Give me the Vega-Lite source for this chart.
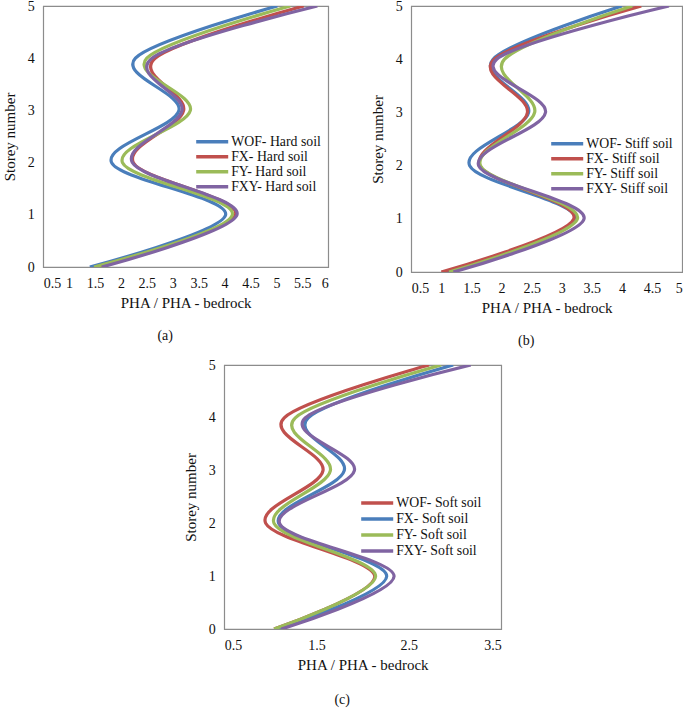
{
  "$schema": "https://vega.github.io/schema/vega-lite/v6.json",
  "padding": {"left": 1, "top": -2, "right": 0, "bottom": 0},
  "background": "white",
  "config": {
    "font": "Times New Roman",
    "view": {"stroke": "#8c8c8c", "strokeWidth": 1.2},
    "axis": {"grid": false, "ticks": false, "domain": false, "labelFont": "Times New Roman", "labelFontSize": 14, "labelColor": "#111", "titleFont": "Times New Roman", "titleFontSize": 15, "titleFontWeight": "normal", "titleColor": "#111"},
    "axisX": {"labelPadding": 9, "titlePadding": 5},
    "axisY": {"labelPadding": 9, "titlePadding": 10},
    "legend": {"labelFont": "Times New Roman", "labelFontSize": 13.8, "labelColor": "#111", "symbolType": "stroke", "symbolSize": 1024, "symbolStrokeWidth": 3.5, "labelOffset": 1, "rowPadding": 0, "clipHeight": 13.3, "orient": "none"},
    "title": {"font": "Times New Roman", "fontSize": 14, "fontWeight": "normal", "color": "#111", "orient": "bottom", "frame": "bounds", "anchor": "middle", "offset": 19}
  },
  "data": {"values": [
    {"panel": "a", "series": "WOF- Hard soil", "storey": 0, "pha": 1.40},
    {"panel": "a", "series": "WOF- Hard soil", "storey": 1, "pha": 4.02},
    {"panel": "a", "series": "WOF- Hard soil", "storey": 2, "pha": 1.82},
    {"panel": "a", "series": "WOF- Hard soil", "storey": 3, "pha": 3.12},
    {"panel": "a", "series": "WOF- Hard soil", "storey": 4, "pha": 2.28},
    {"panel": "a", "series": "WOF- Hard soil", "storey": 5, "pha": 5.02},
    {"panel": "a", "series": "FX- Hard soil", "storey": 0, "pha": 1.51},
    {"panel": "a", "series": "FX- Hard soil", "storey": 1, "pha": 4.21},
    {"panel": "a", "series": "FX- Hard soil", "storey": 2, "pha": 2.24},
    {"panel": "a", "series": "FX- Hard soil", "storey": 3, "pha": 3.21},
    {"panel": "a", "series": "FX- Hard soil", "storey": 4, "pha": 2.66},
    {"panel": "a", "series": "FX- Hard soil", "storey": 5, "pha": 5.53},
    {"panel": "a", "series": "FY- Hard soil", "storey": 0, "pha": 1.48},
    {"panel": "a", "series": "FY- Hard soil", "storey": 1, "pha": 4.15},
    {"panel": "a", "series": "FY- Hard soil", "storey": 2, "pha": 2.03},
    {"panel": "a", "series": "FY- Hard soil", "storey": 3, "pha": 3.34},
    {"panel": "a", "series": "FY- Hard soil", "storey": 4, "pha": 2.50},
    {"panel": "a", "series": "FY- Hard soil", "storey": 5, "pha": 5.27},
    {"panel": "a", "series": "FXY- Hard soil", "storey": 0, "pha": 1.63},
    {"panel": "a", "series": "FXY- Hard soil", "storey": 1, "pha": 4.24},
    {"panel": "a", "series": "FXY- Hard soil", "storey": 2, "pha": 2.22},
    {"panel": "a", "series": "FXY- Hard soil", "storey": 3, "pha": 3.18},
    {"panel": "a", "series": "FXY- Hard soil", "storey": 4, "pha": 2.60},
    {"panel": "a", "series": "FXY- Hard soil", "storey": 5, "pha": 5.79},
    {"panel": "b", "series": "WOF- Stiff soil", "storey": 0, "pha": 1.07},
    {"panel": "b", "series": "WOF- Stiff soil", "storey": 1, "pha": 3.22},
    {"panel": "b", "series": "WOF- Stiff soil", "storey": 2, "pha": 1.47},
    {"panel": "b", "series": "WOF- Stiff soil", "storey": 3, "pha": 2.45},
    {"panel": "b", "series": "WOF- Stiff soil", "storey": 4, "pha": 1.86},
    {"panel": "b", "series": "WOF- Stiff soil", "storey": 5, "pha": 4.00},
    {"panel": "b", "series": "FX- Stiff soil", "storey": 0, "pha": 1.00},
    {"panel": "b", "series": "FX- Stiff soil", "storey": 1, "pha": 3.20},
    {"panel": "b", "series": "FX- Stiff soil", "storey": 2, "pha": 1.64},
    {"panel": "b", "series": "FX- Stiff soil", "storey": 3, "pha": 2.43},
    {"panel": "b", "series": "FX- Stiff soil", "storey": 4, "pha": 1.88},
    {"panel": "b", "series": "FX- Stiff soil", "storey": 5, "pha": 4.32},
    {"panel": "b", "series": "FY- Stiff soil", "storey": 0, "pha": 1.13},
    {"panel": "b", "series": "FY- Stiff soil", "storey": 1, "pha": 3.26},
    {"panel": "b", "series": "FY- Stiff soil", "storey": 2, "pha": 1.65},
    {"panel": "b", "series": "FY- Stiff soil", "storey": 3, "pha": 2.55},
    {"panel": "b", "series": "FY- Stiff soil", "storey": 4, "pha": 2.05},
    {"panel": "b", "series": "FY- Stiff soil", "storey": 5, "pha": 4.17},
    {"panel": "b", "series": "FXY- Stiff soil", "storey": 0, "pha": 1.20},
    {"panel": "b", "series": "FXY- Stiff soil", "storey": 1, "pha": 3.37},
    {"panel": "b", "series": "FXY- Stiff soil", "storey": 2, "pha": 1.62},
    {"panel": "b", "series": "FXY- Stiff soil", "storey": 3, "pha": 2.73},
    {"panel": "b", "series": "FXY- Stiff soil", "storey": 4, "pha": 1.92},
    {"panel": "b", "series": "FXY- Stiff soil", "storey": 5, "pha": 4.78},
    {"panel": "c", "series": "WOF- Soft soil", "storey": 0, "pha": 1.04},
    {"panel": "c", "series": "WOF- Soft soil", "storey": 1, "pha": 2.13},
    {"panel": "c", "series": "WOF- Soft soil", "storey": 2, "pha": 0.95},
    {"panel": "c", "series": "WOF- Soft soil", "storey": 3, "pha": 1.57},
    {"panel": "c", "series": "WOF- Soft soil", "storey": 4, "pha": 1.15},
    {"panel": "c", "series": "WOF- Soft soil", "storey": 5, "pha": 2.72},
    {"panel": "c", "series": "FX- Soft soil", "storey": 0, "pha": 1.08},
    {"panel": "c", "series": "FX- Soft soil", "storey": 1, "pha": 2.26},
    {"panel": "c", "series": "FX- Soft soil", "storey": 2, "pha": 1.09},
    {"panel": "c", "series": "FX- Soft soil", "storey": 3, "pha": 1.80},
    {"panel": "c", "series": "FX- Soft soil", "storey": 4, "pha": 1.41},
    {"panel": "c", "series": "FX- Soft soil", "storey": 5, "pha": 2.98},
    {"panel": "c", "series": "FY- Soft soil", "storey": 0, "pha": 1.04},
    {"panel": "c", "series": "FY- Soft soil", "storey": 1, "pha": 2.14},
    {"panel": "c", "series": "FY- Soft soil", "storey": 2, "pha": 1.04},
    {"panel": "c", "series": "FY- Soft soil", "storey": 3, "pha": 1.65},
    {"panel": "c", "series": "FY- Soft soil", "storey": 4, "pha": 1.27},
    {"panel": "c", "series": "FY- Soft soil", "storey": 5, "pha": 2.85},
    {"panel": "c", "series": "FXY- Soft soil", "storey": 0, "pha": 1.12},
    {"panel": "c", "series": "FXY- Soft soil", "storey": 1, "pha": 2.34},
    {"panel": "c", "series": "FXY- Soft soil", "storey": 2, "pha": 1.10},
    {"panel": "c", "series": "FXY- Soft soil", "storey": 3, "pha": 1.91},
    {"panel": "c", "series": "FXY- Soft soil", "storey": 4, "pha": 1.38},
    {"panel": "c", "series": "FXY- Soft soil", "storey": 5, "pha": 3.17}
  ]},
  "vconcat": [
    {
      "hconcat": [
        {
          "width": 285, "height": 261,
          "title": {"text": "(a)"},
          "transform": [{"filter": "datum.panel === 'a'"}],
          "mark": {"type": "line", "interpolate": "cardinal", "strokeWidth": 3.2, "clip": true},
          "encoding": {
            "x": {"field": "pha", "type": "quantitative", "scale": {"domain": [0.5, 6], "nice": false, "zero": false}, "axis": {"values": [0.5, 1, 1.5, 2, 2.5, 3, 3.5, 4, 4.5, 5, 5.5, 6], "labelExpr": "'' + datum.value", "title": "PHA / PHA - bedrock"}},
            "y": {"field": "storey", "type": "quantitative", "scale": {"domain": [0, 5], "nice": false}, "axis": {"values": [0, 1, 2, 3, 4, 5], "title": "Storey number"}},
            "color": {"field": "series", "type": "nominal", "scale": {"domain": ["WOF- Hard soil", "FX- Hard soil", "FY- Hard soil", "FXY- Hard soil"], "range": ["#4a7ebb", "#c0504d", "#9bbb59", "#8064a2"]}, "legend": {"title": null, "legendX": 151, "legendY": 129}},
            "order": {"field": "storey", "type": "quantitative"}
          }
        },
        {
          "width": 271, "height": 266,
          "title": {"text": "(b)"},
          "transform": [{"filter": "datum.panel === 'b'"}],
          "mark": {"type": "line", "interpolate": "cardinal", "strokeWidth": 3.2, "clip": true},
          "encoding": {
            "x": {"field": "pha", "type": "quantitative", "scale": {"domain": [0.5, 5], "nice": false, "zero": false}, "axis": {"values": [0.5, 1, 1.5, 2, 2.5, 3, 3.5, 4, 4.5, 5], "labelExpr": "'' + datum.value", "title": "PHA / PHA - bedrock"}},
            "y": {"field": "storey", "type": "quantitative", "scale": {"domain": [0, 5], "nice": false}, "axis": {"values": [0, 1, 2, 3, 4, 5], "title": "Storey number"}},
            "color": {"field": "series", "type": "nominal", "scale": {"domain": ["WOF- Stiff soil", "FX- Stiff soil", "FY- Stiff soil", "FXY- Stiff soil"], "range": ["#4a7ebb", "#c0504d", "#9bbb59", "#8064a2"]}, "legend": {"title": null, "legendX": 138, "legendY": 131}},
            "order": {"field": "storey", "type": "quantitative"}
          }
        }
      ],
      "spacing": 40,
      "resolve": {"scale": {"color": "independent", "x": "independent", "y": "independent"}, "legend": {"color": "independent"}}
    },
    {
      "width": 277, "height": 264,
      "title": {"text": "(c)", "offset": 21},
      "transform": [{"filter": "datum.panel === 'c'"}],
      "mark": {"type": "line", "interpolate": "cardinal", "strokeWidth": 3.2, "clip": true},
      "encoding": {
        "x": {"field": "pha", "type": "quantitative", "scale": {"domain": [0.5, 3.5], "nice": false, "zero": false}, "axis": {"values": [0.5, 1.5, 2.5, 3.5], "labelExpr": "'' + datum.value", "title": "PHA / PHA - bedrock"}},
        "y": {"field": "storey", "type": "quantitative", "scale": {"domain": [0, 5], "nice": false}, "axis": {"values": [0, 1, 2, 3, 4, 5], "title": "Storey number"}},
        "color": {"field": "series", "type": "nominal", "scale": {"domain": ["WOF- Soft soil", "FX- Soft soil", "FY- Soft soil", "FXY- Soft soil"], "range": ["#c0504d", "#4a7ebb", "#9bbb59", "#8064a2"]}, "legend": {"title": null, "legendX": 135, "legendY": 130, "clipHeight": 16}},
        "order": {"field": "storey", "type": "quantitative"}
      }
    }
  ],
  "spacing": 8,
  "center": true,
  "resolve": {"scale": {"color": "independent", "x": "independent", "y": "independent"}, "legend": {"color": "independent"}}
}
